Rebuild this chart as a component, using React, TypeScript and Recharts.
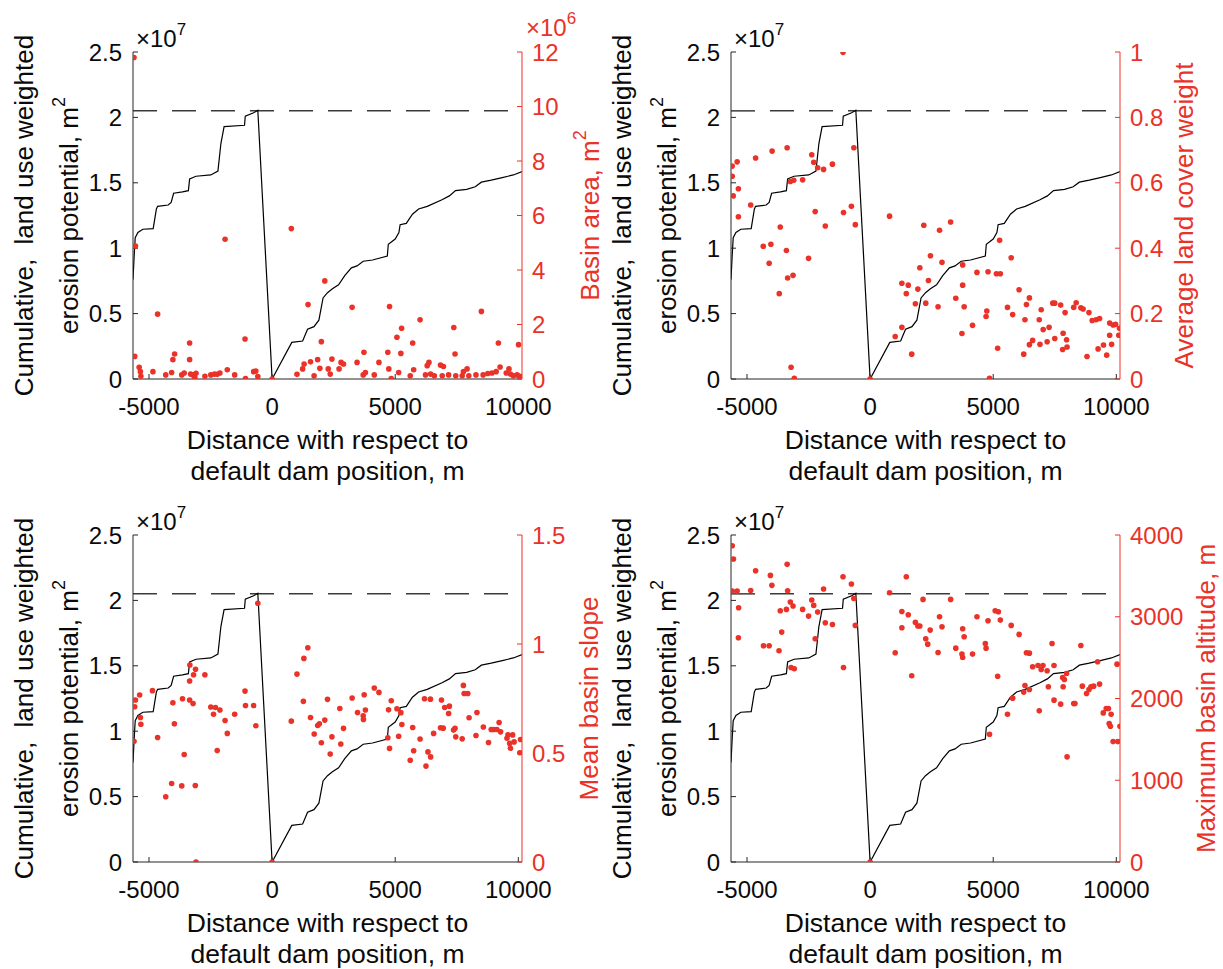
import { ComposedChart, Line, Scatter, XAxis, YAxis, ReferenceLine } from 'recharts';

const FONT = '"Liberation Sans", Arial, Helvetica, sans-serif';
const RED = '#ea3228';
const AXIS = '#262626';
const INK = '#0a0a0a';

const xTicks = [-5000, 0, 5000, 10000];
const xDomain = [-5650, 10150];
const leftTicks = [0, 0.5, 1, 1.5, 2, 2.5];
const threshold = 2.05; // x 1e7

// cumulative land use weighted erosion potential (x 1e7)
const cumX = [-5650, -5600, -5560, -5450, -5250, -4830, -4700, -4650, -4220, -4100, -4000, -3640, -3400, -3350, -3090, -2490, -2200, -2080, -1950, -1120, -1090, -750, -580, 0, 800, 1240, 1440, 1700, 1900, 2070, 2250, 2450, 2700, 2950, 3220, 3450, 3700, 4080, 4680, 4720, 5000, 5150, 5200, 5450, 5700, 5950, 6300, 6900, 7200, 7450, 7900, 8250, 8500, 8900, 9350, 9800, 10150];
const cumY = [0.76, 0.95, 1.08, 1.12, 1.145, 1.15, 1.3, 1.32, 1.33, 1.35, 1.42, 1.43, 1.44, 1.53, 1.55, 1.56, 1.59, 1.8, 1.93, 1.94, 2.01, 2.035, 2.055, 0, 0.28, 0.29, 0.38, 0.4, 0.45, 0.62, 0.66, 0.69, 0.72, 0.79, 0.85, 0.865, 0.9, 0.91, 0.94, 1.03, 1.07, 1.12, 1.18, 1.19, 1.26, 1.3, 1.32, 1.37, 1.4, 1.44, 1.45, 1.47, 1.505, 1.52, 1.54, 1.56, 1.585];

// basin area (x 1e6 m2)
const basinArea = [[-5610, 11.8], [-5550, 4.88], [-5580, 0.83], [-5400, 0.43], [-5350, 0.27], [-5330, 0.1], [-4840, 0.27], [-4650, 2.38], [-4320, 0.15], [-4080, 0.24], [-4030, 0.71], [-3960, 0.92], [-3670, 0.15], [-3570, 0.22], [-3350, 1.32], [-3350, 0.71], [-3310, 0.18], [-3210, 0.15], [-3140, 0.06], [-3090, 0.21], [-2730, 0.1], [-2490, 0.15], [-2340, 0.18], [-2230, 0.17], [-2120, 0.22], [-1910, 5.13], [-1820, 0.34], [-1520, 0.15], [-1100, 1.47], [-1080, 0.02], [-750, 0.27], [-660, 0.29], [-580, 0.09], [0, 0], [780, 5.52], [1010, 0.17], [1240, 0.37], [1300, 0.55], [1460, 2.73], [1560, 0.63], [1705, 0.12], [1850, 0.71], [1940, 0.39], [2000, 1.37], [2140, 3.6], [2280, 0.37], [2360, 0.18], [2430, 0.73], [2720, 0.37], [2800, 0.61], [2900, 0.55], [3250, 2.63], [3450, 0.61], [3700, 0.15], [3730, 0.98], [3790, 0.24], [4150, 0.15], [4340, 0.61], [4700, 0.98], [4740, 0.37], [4770, 2.66], [4840, 0.02], [5070, 1.53], [5140, 0.24], [5230, 0.94], [5260, 1.86], [5610, 0.12], [5710, 1.32], [5750, 0.34], [6010, 2.17], [6230, 0.15], [6300, 0.49], [6370, 0.61], [6440, 0.18], [6590, 0.12], [6840, 0.51], [6910, 0.12], [6960, 0.46], [7170, 0.15], [7380, 1.89], [7430, 0.92], [7460, 0.12], [7720, 0.12], [7770, 0.27], [7920, 0.37], [7990, 0.12], [8280, 0.15], [8500, 2.48], [8570, 0.15], [8760, 0.2], [8930, 0.22], [9100, 0.27], [9190, 1.32], [9260, 0.44], [9510, 0.22], [9620, 0.37], [9680, 0.18], [9800, 0.12], [9950, 0.15], [10010, 1.26], [10060, 0.1]];

// average land cover weight
const landCover = [[-5600, 0.651], [-5600, 0.62], [-5560, 0.56], [-5400, 0.664], [-5350, 0.582], [-5350, 0.496], [-4850, 0.532], [-4650, 0.676], [-4340, 0.406], [-4100, 0.354], [-4030, 0.412], [-3980, 0.697], [-3690, 0.261], [-3650, 0.465], [-3400, 0.393], [-3370, 0.707], [-3350, 0.309], [-3240, 0.604], [-3210, 0.036], [-3130, 0.317], [-3100, 0.608], [-3080, 0.002], [-2740, 0.609], [-2500, 0.369], [-2370, 0.686], [-2290, 0.663], [-2230, 0.512], [-2130, 0.646], [-1890, 0.641], [-1820, 0.468], [-1530, 0.657], [-1100, 0.999], [-1080, 0.509], [-760, 0.528], [-660, 0.707], [-600, 0.472], [0, 0], [790, 0.498], [1020, 0.13], [1290, 0.158], [1290, 0.293], [1470, 0.261], [1550, 0.287], [1690, 0.076], [1840, 0.23], [1940, 0.275], [2020, 0.34], [2180, 0.47], [2260, 0.232], [2370, 0.301], [2450, 0.377], [2760, 0.221], [2820, 0.455], [2920, 0.357], [3270, 0.48], [3480, 0.247], [3730, 0.139], [3760, 0.287], [3760, 0.349], [3820, 0.221], [4160, 0.164], [4340, 0.326], [4710, 0.191], [4740, 0.208], [4790, 0.328], [4850, 0.002], [5130, 0.322], [5180, 0.094], [5290, 0.322], [5260, 0.424], [5580, 0.219], [5730, 0.371], [5790, 0.197], [6050, 0.273], [6240, 0.076], [6290, 0.181], [6350, 0.228], [6470, 0.248], [6470, 0.105], [6600, 0.118], [6870, 0.181], [6900, 0.106], [6950, 0.212], [7030, 0.151], [7190, 0.114], [7270, 0.158], [7420, 0.232], [7500, 0.124], [7500, 0.232], [7740, 0.226], [7820, 0.09], [7840, 0.14], [7920, 0.203], [7980, 0.12], [8000, 0.098], [8270, 0.219], [8370, 0.233], [8560, 0.218], [8650, 0.214], [8810, 0.069], [8890, 0.203], [9020, 0.179], [9180, 0.181], [9260, 0.092], [9320, 0.185], [9480, 0.104], [9610, 0.073], [9730, 0.171], [9730, 0.134], [9810, 0.106], [9870, 0.165], [9970, 0.167], [10100, 0.134], [10130, 0.155]];

// mean basin slope
const basinSlope = [[-5610, 0.554], [-5580, 0.712], [-5550, 0.743], [-5380, 0.766], [-5350, 0.663], [-5330, 0.632], [-4860, 0.786], [-4650, 0.571], [-4320, 0.299], [-4080, 0.36], [-4030, 0.73], [-3970, 0.634], [-3670, 0.349], [-3640, 0.749], [-3570, 0.493], [-3350, 0.83], [-3350, 0.743], [-3340, 0.904], [-3210, 0.727], [-3190, 0.859], [-3110, 0.884], [-3120, 0.351], [-3090, 0], [-2730, 0.859], [-2490, 0.711], [-2380, 0.678], [-2300, 0.709], [-2230, 0.511], [-2120, 0.697], [-1910, 0.649], [-1820, 0.59], [-1520, 0.678], [-1100, 0.784], [-1080, 0.718], [-750, 0.718], [-660, 0.625], [-580, 1.187], [0, 0], [780, 0.646], [1010, 0.862], [1270, 0.737], [1290, 0.934], [1450, 0.983], [1560, 0.663], [1710, 0.587], [1850, 0.626], [1920, 0.634], [2000, 0.547], [2140, 0.651], [2250, 0.746], [2360, 0.495], [2430, 0.574], [2750, 0.704], [2790, 0.541], [2900, 0.613], [3250, 0.752], [3470, 0.686], [3700, 0.671], [3710, 0.654], [3740, 0.767], [3790, 0.697], [4150, 0.798], [4340, 0.778], [4700, 0.57], [4730, 0.698], [4770, 0.521], [4840, 0.74], [5070, 0.703], [5140, 0.577], [5230, 0.685], [5270, 0.631], [5610, 0.467], [5710, 0.617], [5750, 0.51], [6010, 0.564], [6190, 0.749], [6250, 0.44], [6330, 0.505], [6430, 0.747], [6440, 0.482], [6560, 0.59], [6840, 0.616], [6880, 0.743], [6950, 0.614], [7010, 0.709], [7170, 0.681], [7200, 0.715], [7370, 0.605], [7430, 0.613], [7460, 0.574], [7720, 0.565], [7770, 0.81], [7800, 0.773], [7950, 0.773], [8000, 0.662], [8280, 0.58], [8320, 0.686], [8580, 0.619], [8790, 0.548], [8900, 0.608], [9000, 0.608], [9130, 0.608], [9220, 0.64], [9280, 0.597], [9540, 0.568], [9580, 0.583], [9650, 0.544], [9680, 0.522], [9770, 0.583], [9830, 0.551], [10060, 0.501], [10090, 0.562]];

// maximum basin altitude (m)
const basinAltitude = [[-5600, 3869], [-5550, 3706], [-5600, 3314], [-5400, 3314], [-5340, 3110], [-5350, 2743], [-4850, 3322], [-4650, 3563], [-4330, 2645], [-4100, 2645], [-4050, 3506], [-3990, 3384], [-3700, 2584], [-3650, 3073], [-3590, 2812], [-3400, 3090], [-3370, 3641], [-3350, 3318], [-3240, 3180], [-3210, 2380], [-3130, 3131], [-3080, 2363], [-2740, 3090], [-2500, 3008], [-2370, 3204], [-2290, 3139], [-2230, 2731], [-2130, 3057], [-1890, 3339], [-1820, 2927], [-1530, 2906], [-1100, 3490], [-1080, 2380], [-760, 3400], [-660, 3224], [-600, 2894], [0, 0], [790, 3294], [1020, 2559], [1290, 3065], [1290, 2865], [1470, 3490], [1550, 3024], [1690, 2278], [1840, 2931], [1940, 2886], [2020, 2886], [2150, 3212], [2260, 2731], [2340, 2665], [2440, 2837], [2760, 2563], [2820, 3000], [2920, 2878], [3270, 3212], [3480, 2616], [3730, 2543], [3760, 2502], [3760, 2853], [3820, 2755], [4160, 2543], [4340, 3000], [4680, 2673], [4710, 2616], [4790, 2951], [4850, 1563], [5080, 3073], [5210, 3061], [5180, 2273], [5290, 2959], [5580, 1808], [5730, 2894], [5790, 2004], [6050, 2784], [6240, 2078], [6290, 2159], [6350, 2559], [6470, 2555], [6470, 2110], [6600, 2388], [6820, 2404], [6870, 1849], [6950, 2355], [7020, 2404], [7190, 2339], [7240, 2143], [7390, 2673], [7470, 2404], [7470, 1980], [7740, 1931], [7820, 2257], [7840, 2143], [7890, 2233], [7980, 2306], [8000, 1286], [8270, 1939], [8320, 1939], [8560, 2649], [8620, 2151], [8790, 2061], [8890, 2110], [8970, 2143], [9080, 2151], [9240, 2449], [9320, 2176], [9470, 1824], [9590, 1878], [9680, 1878], [9710, 1694], [9760, 1661], [9790, 1808], [9870, 1473], [10060, 1473], [10030, 2420], [10150, 1661]];

const PW = 389;
const PH = 327;

const panels = [
  { id: 'area', left: 133, top: 52, pts: basinArea, domain: [0, 12], ticks: [0, 2, 4, 6, 8, 10, 12], label: 'Basin area, m', sup: '2', exp: '6', labelOff: 77 },
  { id: 'cover', left: 731, top: 52, pts: landCover, domain: [0, 1], ticks: [0, 0.2, 0.4, 0.6, 0.8, 1], label: 'Average land cover weight', sup: '', exp: '', labelOff: 73 },
  { id: 'slope', left: 133, top: 535, pts: basinSlope, domain: [0, 1.5], ticks: [0, 0.5, 1, 1.5], label: 'Mean basin slope', sup: '', exp: '', labelOff: 76 },
  { id: 'alt', left: 731, top: 535, pts: basinAltitude, domain: [0, 4000], ticks: [0, 1000, 2000, 3000, 4000], label: 'Maximum basin altitude, m', sup: '', exp: '', labelOff: 95 },
];

const lineData = cumX.map((x, i) => ({ x, y: cumY[i] }));

const redDot = (props: any) => <circle cx={props.cx} cy={props.cy} r={2.8} fill={RED} />;

function Panel({ p }: { p: any }) {
  const pts = p.pts.map(([x, y]: number[]) => ({ x, y }));
  return (
    <div style={{ position: 'absolute', left: p.left - 100, top: p.top - 40 }}>
      <ComposedChart width={PW + 170} height={PH + 85} margin={{ top: 40, left: 40, right: 10, bottom: 5 }}>
        <XAxis xAxisId="b" dataKey="x" type="number" domain={xDomain} ticks={xTicks} interval={0} allowDataOverflow height={40}
          tickSize={-5} tickMargin={24} stroke={AXIS} tick={{ fill: INK, fontSize: 24 }} />
        <XAxis xAxisId="t" orientation="top" dataKey="x" type="number" domain={xDomain} ticks={xTicks} interval={0} allowDataOverflow height={0}
          tickSize={-5} tick={false} stroke={AXIS} />
        <YAxis yAxisId="l" dataKey="y" type="number" domain={[0, 2.5]} ticks={leftTicks} interval={0} allowDataOverflow width={60}
          tickSize={-5} tickMargin={16} stroke={AXIS} tick={{ fill: INK, fontSize: 24 }} />
        <YAxis yAxisId="r" orientation="right" dataKey="y" type="number" domain={p.domain} ticks={p.ticks} interval={0} allowDataOverflow width={60}
          tickSize={-5} tickMargin={15} stroke={RED} tick={{ fill: RED, fontSize: 24 }} />
        <ReferenceLine xAxisId="b" yAxisId="l" y={threshold} stroke="#3a3a3a" strokeWidth={1.5} strokeDasharray="24 15" />
        <Line xAxisId="b" yAxisId="l" data={lineData} dataKey="y" type="linear" stroke="#000" strokeWidth={1.2} dot={false} isAnimationActive={false} />
        <Scatter xAxisId="b" yAxisId="r" data={pts} dataKey="y" fill={RED} shape={redDot} isAnimationActive={false} />
      </ComposedChart>
    </div>
  );
}

function Titles({ p }: { p: any }) {
  const cy = p.top + PH / 2;
  const cx = p.left + PW / 2;
  const right = p.left + PW;
  const bottom = p.top + PH;
  return (
    <g>
      <text transform={`translate(${p.left - 100},${cy}) rotate(-90)`} textAnchor="middle" fontSize={26} fill={INK}>
        {'Cumulative,\u00a0 land use weighted'}
      </text>
      <text transform={`translate(${p.left - 55},${cy}) rotate(-90)`} textAnchor="middle" fontSize={26} fill={INK}>
        erosion potential, m<tspan dy={-13} fontSize={18}>2</tspan>
      </text>
      <text x={cx} y={bottom + 70} textAnchor="middle" fontSize={26.5} fill={INK}>Distance with respect to</text>
      <text x={cx} y={bottom + 101} textAnchor="middle" fontSize={26.5} fill={INK}>default dam position, m</text>
      <text x={p.left + 3} y={p.top - 5} fontSize={24} fill={INK}>
        ×10<tspan dy={-12} fontSize={17}>7</tspan>
      </text>
      {p.exp && (
        <text x={right + 4} y={p.top - 16} fontSize={24} fill={RED}>
          ×10<tspan dy={-12} fontSize={17}>{p.exp}</tspan>
        </text>
      )}
      <text transform={`translate(${right + p.labelOff},${cy}) rotate(-90)`} textAnchor="middle" fontSize={26} fill={RED}>
        {p.label}
        {p.sup && <tspan dy={-13} fontSize={18}>{p.sup}</tspan>}
      </text>
    </g>
  );
}

export default function App() {
  return (
    <div style={{ position: 'absolute', left: 0, top: 0, width: 1223, height: 969, background: '#fff', fontFamily: FONT, overflow: 'hidden' }}>
      {panels.map((p) => (
        <Panel key={p.id} p={p} />
      ))}
      <svg width={1223} height={969} style={{ position: 'absolute', left: 0, top: 0, pointerEvents: 'none', fontFamily: FONT }}>
        {panels.map((p) => (
          <Titles key={p.id} p={p} />
        ))}
      </svg>
    </div>
  );
}
